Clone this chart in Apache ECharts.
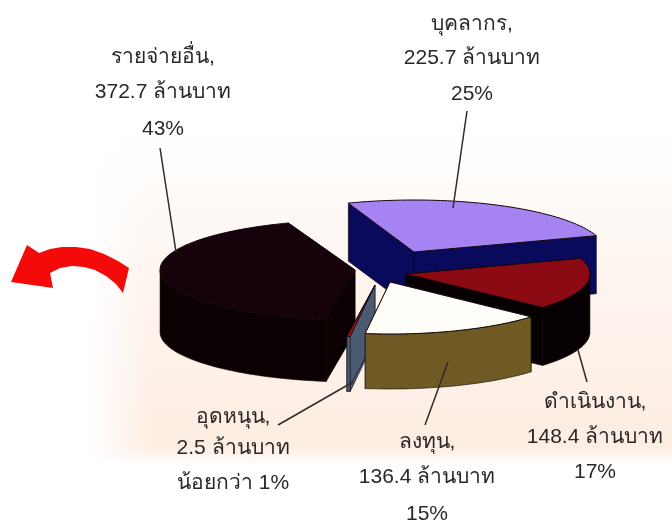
<!DOCTYPE html>
<html>
<head>
<meta charset="utf-8">
<script src="https://cdn.jsdelivr.net/npm/echarts@6/dist/echarts.min.js"></script>
<style>
  html, body { margin: 0; padding: 0; background: #fff; }
  #wrap { position: relative; width: 672px; height: 530px; }
  /* peach paper behind the pie, fades out at the top, left and bottom */
  #wrap .peach { position: absolute; left: 0; top: 0; width: 672px; height: 530px;
    background: linear-gradient(180deg, #ffffff 0, #ffffff 130px, #fef5ef 280px, #fdeee4 420px, #fdeee4 448px, #ffffff 466px); }
  #wrap .fade { position: absolute; left: 0; top: 0; width: 150px; height: 530px;
    background: linear-gradient(90deg, #ffffff 0, #ffffff 90px, rgba(255,255,255,0) 150px); }
  #chart { position: absolute; left: 0; top: 0; width: 672px; height: 530px; }
</style>
</head>
<body>
<div id="wrap">
  <div class="peach"></div>
  <div class="fade"></div>
  <div id="chart"></div>
</div>
<script>
// clockwise from the back left edge of the pie
const names = ['บุคลากร', 'ดำเนินงาน', 'ลงทุน', 'อุดหนุน', 'รายจ่ายอื่น'];
const values = [225.7, 148.4, 136.4, 2.5, 372.7];
const percents = ['25%', '17%', '15%', 'น้อยกว่า 1%', '43%'];

// each slice is pulled out by hand so it has its own apex
const apexX = [414, 406, 390, 375, 355];
const apexY = [252, 274, 282, 285, 270];
const radiusX = [192, 184, 190, 190, 195];
const radiusY = [52, 50, 52, 52, 50];
const depth = [58, 58, 55, 55, 62];
const topColors = ['#a583f2', '#8c0a14', '#fffdf8', '#a01018', '#16020a'];
const wallColors = ['#0a0a5c', '#070003', '#6e5a22', '#4b5a70', '#0b0002'];
// painter order, back to front
const drawOrder = [0, 4, 1, 3, 2];
const startAngle = -110;

const total = values.reduce((a, b) => a + b, 0);
const angles = [];
let acc = startAngle;
values.forEach(v => {
  angles.push([acc, acc + v / total * 360]);
  acc += v / total * 360;
});

const renderSlice = (params, api) => {
  const i = api.value(0);
  const cx = apexX[i], cy = apexY[i], rx = radiusX[i], ry = radiusY[i], d = depth[i];
  const [a0, a1] = angles[i];
  const rim = t => [cx + rx * Math.cos(t * Math.PI / 180), cy + ry * Math.sin(t * Math.PI / 180)];
  const down = p => [p[0], p[1] + d];
  const arc = [];
  for (let t = a0; t < a1; t += 2) arc.push(rim(t));
  arc.push(rim(a1));

  const wallStyle = { fill: wallColors[i], stroke: '#0a0508', lineWidth: 0.6 };
  const children = [];
  const apex = [cx, cy];
  [arc[0], arc[arc.length - 1]].forEach(p => {
    children.push({ type: 'polygon', shape: { points: [apex, p, down(p), down(apex)] }, style: wallStyle });
  });
  // only the part of the rim that faces the viewer
  const front = arc.filter(p => p[1] >= cy);
  if (front.length > 1) {
    children.push({
      type: 'polygon',
      shape: { points: front.concat(front.slice().reverse().map(down)) },
      style: wallStyle
    });
  }
  children.push({
    type: 'polygon',
    shape: { points: [apex].concat(arc) },
    style: { fill: topColors[i], stroke: '#12060a', lineWidth: 1 }
  });
  return { type: 'group', children };
};

const labelStyle = {
  font: '21px "Liberation Sans", "Noto Sans", sans-serif',
  fill: '#2b2727',
  textAlign: 'center',
  textVerticalAlign: 'middle'
};
const text = (x, y, str) => ({ type: 'text', x, y, z: 50, style: { ...labelStyle, text: str } });
const leader = (x1, y1, x2, y2) => ({
  type: 'line', z: 50,
  shape: { x1, y1, x2, y2 },
  style: { stroke: '#2f2b2b', lineWidth: 1.5 }
});

const chart = echarts.init(document.getElementById('chart'));
chart.setOption({
  animation: false,
  series: [{
    type: 'custom',
    coordinateSystem: 'none',
    renderItem: renderSlice,
    data: drawOrder.map(i => [i, values[i]])
  }],
  graphic: [
    text(163, 57, names[4] + ','),
    text(163, 92, values[4] + ' ล้านบาท'),
    text(163, 129, percents[4]),
    text(472, 24, names[0] + ','),
    text(472, 58, values[0] + ' ล้านบาท'),
    text(472, 94, percents[0]),
    text(595, 402, names[1] + ','),
    text(595, 437, values[1] + ' ล้านบาท'),
    text(595, 472, percents[1]),
    text(427, 442, names[2] + ','),
    text(427, 477, values[2] + ' ล้านบาท'),
    text(427, 514, percents[2]),
    text(233, 417, names[3] + ','),
    text(233, 448, values[3] + ' ล้านบาท'),
    text(233, 483, percents[3]),
    leader(160, 148, 176, 252),
    leader(467, 111, 453, 208),
    leader(578, 350, 587, 382),
    leader(448, 362, 425, 425),
    leader(278, 425, 353, 382),
    // red arrow on the left
    {
      type: 'polygon', z: 50,
      shape: {
        points: [[27, 245], [39, 253], [50, 249], [62, 247], [76, 247], [90, 249], [104, 254], [118, 261], [129, 268],
          [123, 293], [116, 284], [106, 276], [95, 270], [84, 267], [72, 266], [60, 268], [50, 273], [53, 288], [11, 282]]
      },
      style: { fill: '#f50a0a' }
    }
  ]
});
</script>
</body>
</html>
